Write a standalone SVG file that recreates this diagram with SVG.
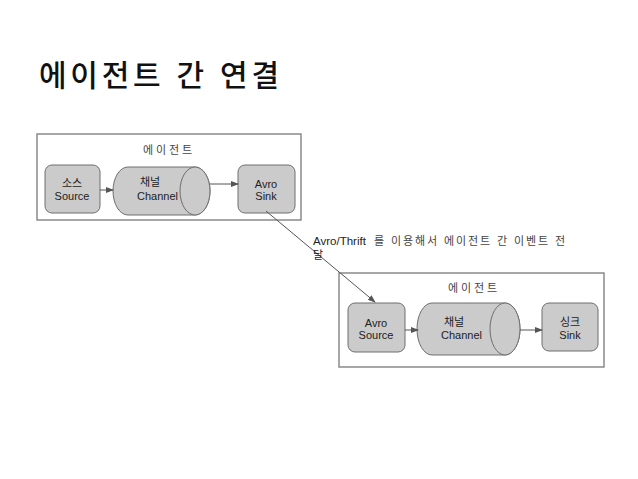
<svg xmlns="http://www.w3.org/2000/svg" width="638" height="479" viewBox="0 0 638 479">
<style>
text{font-family:"Liberation Sans","Noto Sans CJK KR",sans-serif;fill:#222}
.t{font-size:11px}
.c{text-anchor:middle}
.frame{fill:#fff;stroke:#8a8a8a;stroke-width:1.5}
.node{fill:#cbcbcb;stroke:#6e6e6e;stroke-width:1}
.cn{stroke:#555;stroke-width:1;fill:none}
</style>
<defs>
<marker id="ah" markerWidth="8" markerHeight="8" refX="7" refY="4" orient="auto" markerUnits="userSpaceOnUse">
<path d="M0,1 L8,4 L0,7 z" fill="#555"/>
</marker>
</defs>
<rect width="638" height="479" fill="#fff"/>
<text x="39" y="86" textLength="240" lengthAdjust="spacing" style="font-size:30px;fill:#111;font-weight:500">에이전트 간 연결</text>
<g id="agent1">
<rect class="frame" x="37" y="134" width="264" height="86"/>
<text class="t" x="143" y="154" textLength="49" lengthAdjust="spacing" style="fill:#444">에이전트</text>
</g>
<g id="source1">
<rect class="node" x="45" y="165" width="55" height="48" rx="7"/>
<text class="t c" x="72" y="187">소스</text>
<text class="t c" x="72" y="200">Source</text>
</g>
<g id="channel1">
<path class="node" d="M128,167 H195 A15,24 0 0 1 195,215 H128 A15,24 0 0 1 128,167 z"/>
<ellipse class="node" cx="195" cy="191" rx="15" ry="24"/>
<text class="t" x="140" y="186">채널</text>
<text class="t" x="137" y="200">Channel</text>
</g>
<g id="sink1">
<rect class="node" x="238" y="165" width="57" height="48" rx="7"/>
<text class="t c" x="266" y="188">Avro</text>
<text class="t c" x="266" y="200">Sink</text>
</g>
<g id="agent2">
<rect class="frame" x="339" y="273" width="265" height="94"/>
<text class="t" x="448" y="292" textLength="49" lengthAdjust="spacing" style="fill:#444">에이전트</text>
</g>
<g id="source2">
<rect class="node" x="348" y="303" width="57" height="49" rx="7"/>
<text class="t c" x="376" y="327">Avro</text>
<text class="t c" x="376" y="339">Source</text>
</g>
<g id="channel2">
<path class="node" d="M432,303 H505 A15,26 0 0 1 505,355 H432 A15,26 0 0 1 432,303 z"/>
<ellipse class="node" cx="505" cy="329" rx="15" ry="26"/>
<text class="t" x="444" y="326">채널</text>
<text class="t" x="441" y="339">Channel</text>
</g>
<g id="sink2">
<rect class="node" x="542" y="303" width="56" height="48" rx="7"/>
<text class="t c" x="570" y="326">싱크</text>
<text class="t c" x="570" y="339">Sink</text>
</g>
<g id="connectors">
<line class="cn" x1="100" y1="190" x2="113" y2="190" marker-end="url(#ah)"/>
<line class="cn" x1="210" y1="184" x2="238" y2="184" marker-end="url(#ah)"/>
<line class="cn" x1="405" y1="330" x2="418" y2="330" marker-end="url(#ah)"/>
<line class="cn" x1="520" y1="330" x2="542" y2="330" marker-end="url(#ah)"/>
<line class="cn" x1="266" y1="211" x2="375" y2="302" marker-end="url(#ah)"/>
<text class="t" x="313" y="245" style="font-size:11.5px">Avro/Thrift<tspan x="374" textLength="191" lengthAdjust="spacing" style="fill:#444;font-size:11px">를 이용해서 에이전트 간 이벤트 전</tspan></text>
<text class="t" x="313" y="259">달</text>
</g>
</svg>
